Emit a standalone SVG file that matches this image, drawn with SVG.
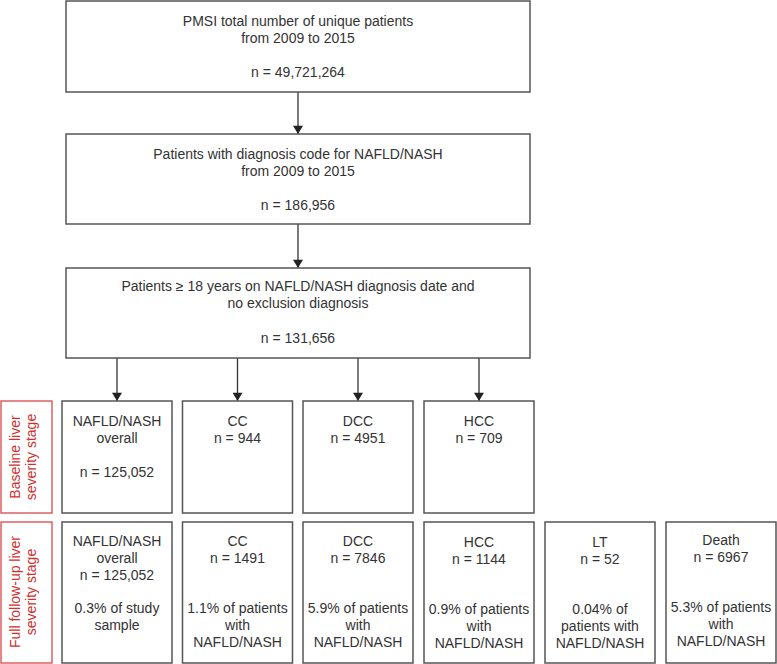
<svg xmlns="http://www.w3.org/2000/svg" width="777" height="664" viewBox="0 0 777 664">
<defs>
<style>
.box{fill:#fff;stroke:#555;stroke-width:1.5}
.side{fill:#fff;stroke:#d9474a;stroke-width:1.3}
.t{font-family:"Liberation Sans",Arial,sans-serif;font-size:14px;fill:#333;text-anchor:middle}
.r{font-family:"Liberation Sans",Arial,sans-serif;font-size:14px;fill:#d0312f;text-anchor:middle}
.c{stroke:#333;stroke-width:1.3;fill:none}
</style>
<marker id="ah" viewBox="0 0 10 12" refX="10" refY="6" markerWidth="12" markerHeight="10" markerUnits="userSpaceOnUse" orient="auto">
<path d="M0,0 L10,6 L0,12 Z" fill="#222"/>
</marker>
</defs>
<rect width="777" height="664" fill="#fff"/>
<g id="connectors">
<line class="c" x1="298" y1="92" x2="298" y2="134" marker-end="url(#ah)"/>
<line class="c" x1="298" y1="224" x2="298" y2="268" marker-end="url(#ah)"/>
<line class="c" x1="117" y1="358" x2="117" y2="401" marker-end="url(#ah)"/>
<line class="c" x1="237.5" y1="358" x2="237.5" y2="401" marker-end="url(#ah)"/>
<line class="c" x1="358" y1="358" x2="358" y2="401" marker-end="url(#ah)"/>
<line class="c" x1="479" y1="358" x2="479" y2="401" marker-end="url(#ah)"/>
</g>
<g id="pmsi">
<rect class="box" x="66" y="1" width="464" height="91"/>
<text class="t" x="298" y="26">PMSI total number of unique patients</text>
<text class="t" x="298" y="43">from 2009 to 2015</text>
<text class="t" x="298" y="77">n = 49,721,264</text>
</g>
<g id="diag">
<rect class="box" x="66" y="134" width="464" height="90"/>
<text class="t" x="298" y="159">Patients with diagnosis code for NAFLD/NASH</text>
<text class="t" x="298" y="176">from 2009 to 2015</text>
<text class="t" x="298" y="210">n = 186,956</text>
</g>
<g id="adults">
<rect class="box" x="66" y="268" width="464" height="90"/>
<text class="t" x="298" y="291">Patients ≥ 18 years on NAFLD/NASH diagnosis date and</text>
<text class="t" x="298" y="308">no exclusion diagnosis</text>
<text class="t" x="298" y="343">n = 131,656</text>
</g>
<g id="label-baseline">
<rect class="side" x="1" y="401" width="51" height="112"/>
<text class="r" transform="translate(20,457) rotate(-90)">Baseline liver</text>
<text class="r" transform="translate(36,457) rotate(-90)">severity stage</text>
</g>
<g id="label-followup">
<rect class="side" x="1" y="522" width="51" height="141"/>
<text class="r" transform="translate(20,592) rotate(-90)">Full follow-up liver</text>
<text class="r" transform="translate(36,592) rotate(-90)">severity stage</text>
</g>
<g id="b-nafld">
<rect class="box" x="62" y="401" width="110" height="112"/>
<text class="t" x="117" y="426">NAFLD/NASH</text>
<text class="t" x="117" y="443">overall</text>
<text class="t" x="117" y="477">n = 125,052</text>
</g>
<g id="b-cc">
<rect class="box" x="182.5" y="401" width="110" height="112"/>
<text class="t" x="237.5" y="426">CC</text>
<text class="t" x="237.5" y="443">n = 944</text>
</g>
<g id="b-dcc">
<rect class="box" x="303" y="401" width="110" height="112"/>
<text class="t" x="358" y="426">DCC</text>
<text class="t" x="358" y="443">n = 4951</text>
</g>
<g id="b-hcc">
<rect class="box" x="424" y="401" width="110" height="112"/>
<text class="t" x="479" y="426">HCC</text>
<text class="t" x="479" y="443">n = 709</text>
</g>
<g id="f-nafld">
<rect class="box" x="62" y="522" width="110" height="141"/>
<text class="t" x="117" y="546">NAFLD/NASH</text>
<text class="t" x="117" y="563">overall</text>
<text class="t" x="117" y="580">n = 125,052</text>
<text class="t" x="117" y="613">0.3% of study</text>
<text class="t" x="117" y="630">sample</text>
</g>
<g id="f-cc">
<rect class="box" x="182.5" y="522" width="110" height="141"/>
<text class="t" x="237.5" y="546">CC</text>
<text class="t" x="237.5" y="563">n = 1491</text>
<text class="t" x="237.5" y="613">1.1% of patients</text>
<text class="t" x="237.5" y="630">with</text>
<text class="t" x="237.5" y="647">NAFLD/NASH</text>
</g>
<g id="f-dcc">
<rect class="box" x="303" y="522" width="110" height="141"/>
<text class="t" x="358" y="546">DCC</text>
<text class="t" x="358" y="563">n = 7846</text>
<text class="t" x="358" y="613">5.9% of patients</text>
<text class="t" x="358" y="630">with</text>
<text class="t" x="358" y="647">NAFLD/NASH</text>
</g>
<g id="f-hcc">
<rect class="box" x="424" y="522" width="110" height="141"/>
<text class="t" x="479" y="547">HCC</text>
<text class="t" x="479" y="564">n = 1144</text>
<text class="t" x="479" y="614">0.9% of patients</text>
<text class="t" x="479" y="631">with</text>
<text class="t" x="479" y="648">NAFLD/NASH</text>
</g>
<g id="f-lt">
<rect class="box" x="545" y="522" width="110" height="141"/>
<text class="t" x="600" y="547">LT</text>
<text class="t" x="600" y="564">n = 52</text>
<text class="t" x="600" y="614">0.04% of</text>
<text class="t" x="600" y="631">patients with</text>
<text class="t" x="600" y="648">NAFLD/NASH</text>
</g>
<g id="f-death">
<rect class="box" x="666" y="522" width="110" height="141"/>
<text class="t" x="721" y="545">Death</text>
<text class="t" x="721" y="562">n = 6967</text>
<text class="t" x="721" y="612">5.3% of patients</text>
<text class="t" x="721" y="629">with</text>
<text class="t" x="721" y="646">NAFLD/NASH</text>
</g>
</svg>
